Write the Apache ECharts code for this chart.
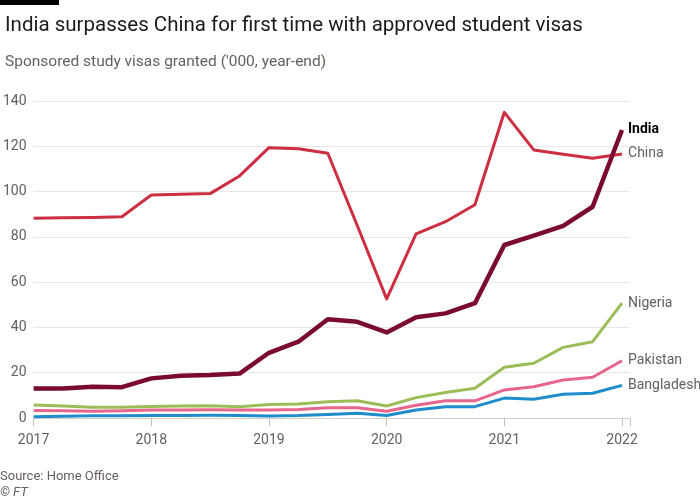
<!DOCTYPE html>
<html><head><meta charset="utf-8">
<script src="https://cdn.jsdelivr.net/npm/echarts@6/dist/echarts.min.js"></script>
<style>html,body{margin:0;padding:0;background:#fff}#c{width:700px;height:500px}</style>
</head><body><div id="c"></div>
<script>
const quarters = [2017,2017.25,2017.5,2017.75,2018,2018.25,2018.5,2018.75,2019,2019.25,2019.5,2019.75,2020,2020.25,2020.5,2020.75,2021,2021.25,2021.5,2021.75,2022];
const india = [13.0,13.0,13.8,13.6,17.5,18.7,19.0,19.6,28.8,33.7,43.6,42.5,37.8,44.5,46.2,50.7,76.4,80.5,84.8,93.3,127.2];
const china = [88.2,88.4,88.6,88.9,98.5,98.8,99.1,106.9,119.4,118.9,116.9,85.0,52.6,81.3,86.7,94.2,135.0,118.4,116.5,114.7,116.6];
const nigeria = [5.7,5.3,4.8,4.8,5.1,5.3,5.4,5.0,6.0,6.2,7.2,7.6,5.3,9.0,11.3,13.1,22.4,24.2,31.2,33.7,50.7];
const pakistan = [3.3,3.2,3.0,3.2,3.5,3.5,3.6,3.5,3.5,3.8,4.5,4.5,3.0,5.6,7.6,7.6,12.4,13.8,16.8,18.0,25.3];
const bangladesh = [0.6,0.8,1.0,1.0,1.1,1.1,1.2,1.1,0.9,1.1,1.6,2.1,1.1,3.5,5.0,5.0,8.8,8.3,10.5,10.9,14.4];
const yTicks = [0,20,40,60,80,100,120,140];
const xTicks = [2017,2018,2019,2020,2021,2022];

const FONT = 'Roboto';
const GREY = '#66605c';
function pts(vals){ return quarters.map((q,i)=>[q, vals[i]]); }
function mk(name, vals, color, width, bold){
  return {
    name, type:'line', data: pts(vals), symbol:'none', smooth:false,
    lineStyle:{color, width, join:'round'},
    itemStyle:{color},
    z: bold ? 10 : 5,
    endLabel:{show:true, formatter:name, distance:6, fontFamily:FONT, fontSize:14,
      color: bold ? '#000' : GREY, fontWeight: bold ? 'bold' : 'normal'}
  };
}
const chart = echarts.init(document.getElementById('c'), null, {renderer:'canvas'});
chart.setOption({
  animation:false,
  backgroundColor:'#fff',
  grid:{left:32, right:70, top:101, bottom:82, containLabel:false},
  title:[
    {text:'India surpasses China for first time with approved student visas', left:0, top:10,
      textStyle:{fontFamily:FONT, fontSize:20.5, fontWeight:'normal', color:'#1a1a1a'}},
    {text:"Sponsored study visas granted ('000, year-end)", left:0, top:49,
      textStyle:{fontFamily:FONT, fontSize:15.5, fontWeight:'normal', color:GREY}},
    {text:'Source: Home Office', left:0, top:470, padding:0,
      textStyle:{fontFamily:FONT, fontSize:13, fontWeight:'normal', color:GREY}},
    {text:'© FT', left:0, top:486, padding:0,
      textStyle:{fontFamily:FONT, fontSize:13, fontWeight:'normal', fontStyle:'italic', color:GREY}}
  ],
  graphic:[{type:'rect', left:0, top:0, shape:{width:59, height:5}, style:{fill:'#000'}}],
  xAxis:{type:'value', min:2017, max:2022 + 8/118, interval:1,
    axisLine:{show:true, lineStyle:{color:'#d6cfc8', width:1}},
    axisTick:{show:true, length:8, lineStyle:{color:'#c9c1b9'}},
    splitLine:{show:false},
    axisLabel:{fontFamily:FONT, fontSize:14, color:GREY, margin:15,
      formatter:v => xTicks.includes(v) ? String(v) : ''}},
  yAxis:{type:'value', min:0, max:140, interval:20,
    axisLine:{show:false}, axisTick:{show:false},
    splitLine:{lineStyle:{color:'#ebe6e1', width:1}},
    axisLabel:{fontFamily:FONT, fontSize:14, color:GREY, margin:7,
      formatter:v => yTicks.includes(v) ? String(v) : ''}},
  series:[
    mk('Bangladesh', bangladesh, '#1f8dcc', 3, false),
    mk('Pakistan', pakistan, '#e7668c', 3, false),
    mk('Nigeria', nigeria, '#9bbd57', 3, false),
    mk('China', china, '#cc2e42', 3, false),
    mk('India', india, '#7a0a30', 4.5, true)
  ]
});
</script></body></html>
